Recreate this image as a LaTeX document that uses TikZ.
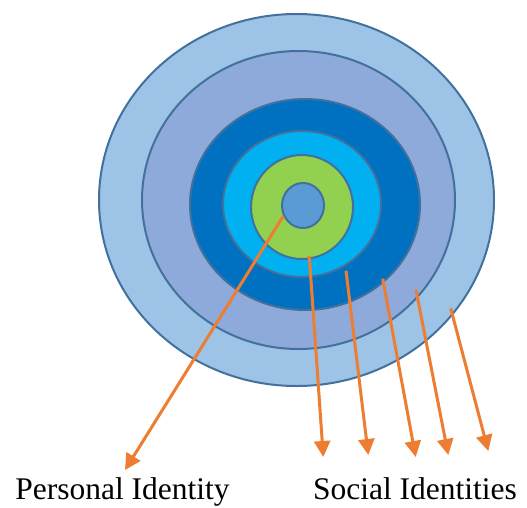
\documentclass[tikz,border=0pt]{standalone}
\usepackage{fontspec}
\setmainfont{Liberation Serif}
\usetikzlibrary{shapes.geometric,arrows.meta}

\definecolor{ringA}{HTML}{9DC3E6}
\definecolor{ringB}{HTML}{8EAADB}
\definecolor{ringC}{HTML}{0070C0}
\definecolor{ringD}{HTML}{00B0F0}
\definecolor{ringE}{HTML}{92D050}
\definecolor{ringF}{HTML}{5B9BD5}
\definecolor{edgeblue}{HTML}{41719C}
\definecolor{arroworange}{HTML}{ED7D31}

\begin{document}
\begin{tikzpicture}[x=1pt, y=-1pt, >={Triangle[length=16pt,width=16pt]}]
    \tikzset{
        ring/.style={ellipse, draw=edgeblue, line width=2pt, inner sep=0pt},
        idarrow/.style={->, arroworange, line width=3pt},
        label/.style={font=\fontsize{31.5}{36}\selectfont, inner sep=0pt, anchor=base}
    }
    \useasboundingbox (0,0) rectangle (527,507);

    % Aneis, de fora para dentro
    \node[ring, fill=ringA, minimum width=395pt, minimum height=372pt] (outer) at (296.5,200) {};
    \node[ring, fill=ringB, minimum width=313pt, minimum height=298pt] (second) at (298.5,200) {};
    \node[ring, fill=ringC, minimum width=230pt, minimum height=211pt] (third) at (305,204.5) {};
    \node[ring, fill=ringD, minimum width=158pt, minimum height=146pt] (fourth) at (302,204) {};
    \node[ring, fill=ringE, minimum width=102pt, minimum height=104pt] (fifth) at (302,207) {};
    \node[ring, fill=ringF, minimum width=42pt, minimum height=45pt] (core) at (303,205.5) {};

    % Rotulos (linha de base)
    \node[label] (personal) at (122.5,499) {Personal Identity};
    \node[label] (social) at (415,499) {Social Identities};

    % Pontos de saida das setas
    \coordinate (p0) at (283.3,216);
    \coordinate (s1) at (309.3,256);
    \coordinate (s2) at (346,270.7);
    \coordinate (s3) at (382.7,278.7);
    \coordinate (s4) at (416,290);
    \coordinate (s5) at (450.7,308.3);

    % Pontas das setas
    \coordinate (p0end) at (125,470);
    \coordinate (s1end) at (323.3,457);
    \coordinate (s2end) at (368.3,455);
    \coordinate (s3end) at (415.7,457);
    \coordinate (s4end) at (448.3,455);
    \coordinate (s5end) at (488.3,451);

    % Setas
    \draw[idarrow] (p0) -- (p0end);
    \foreach \i in {1,...,5}
        \draw[idarrow] (s\i) -- (s\i end);

\end{tikzpicture}
\end{document}
